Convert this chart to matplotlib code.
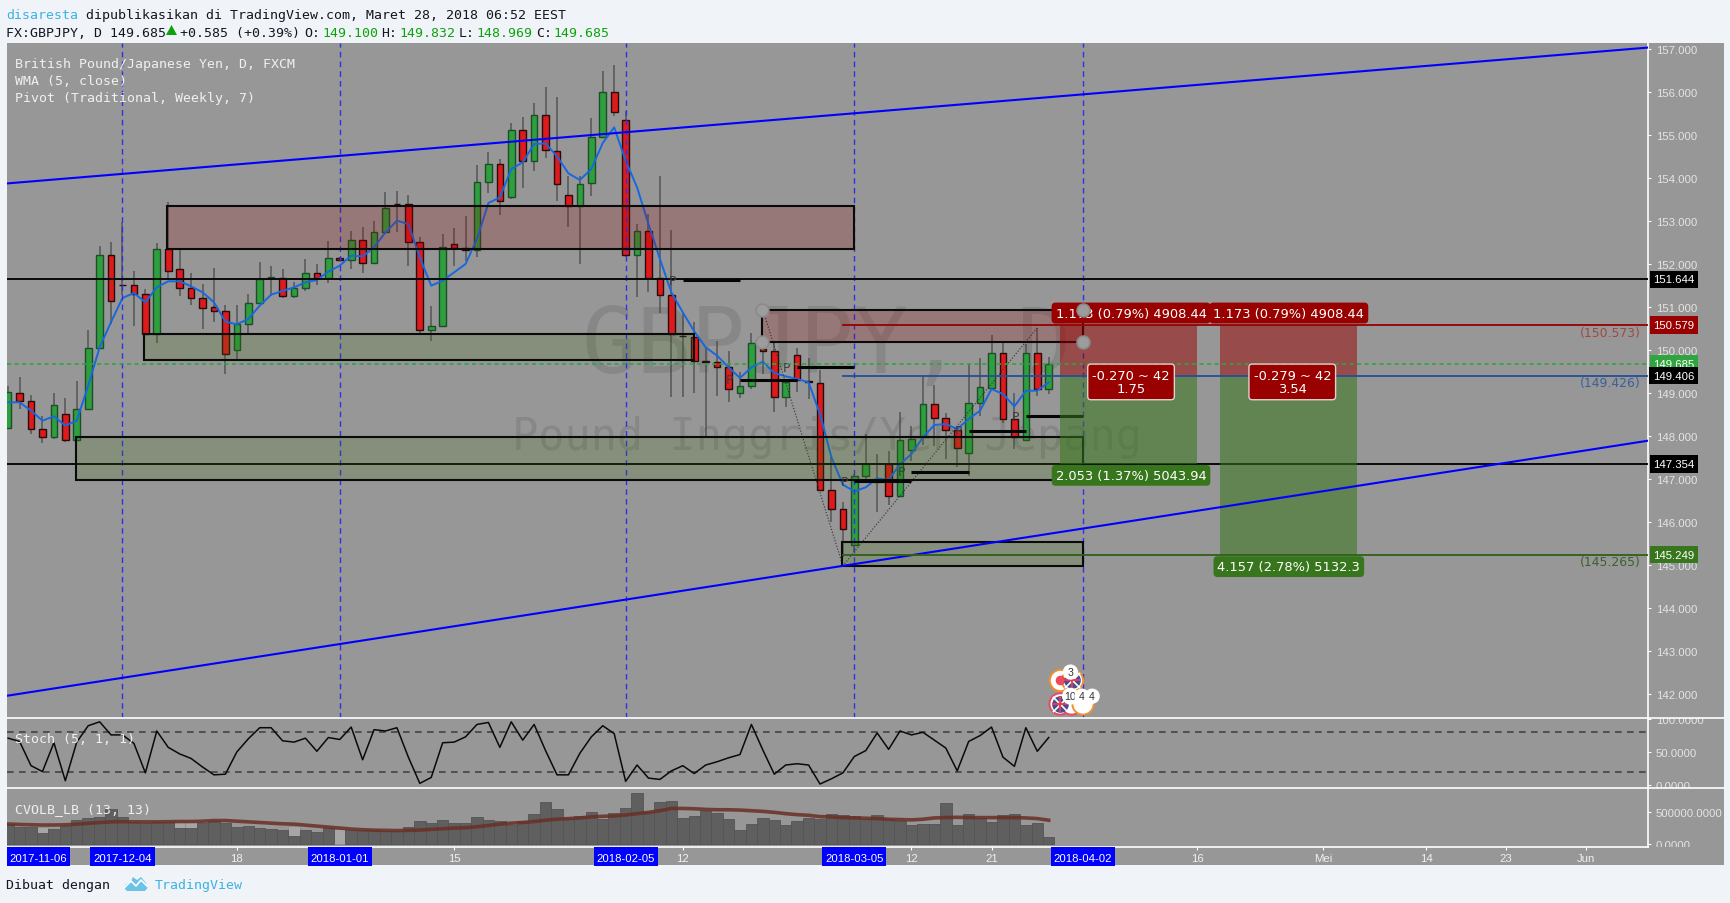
import numpy as np
import matplotlib
matplotlib.use('Agg')
import matplotlib.pyplot as plt
from matplotlib.patches import Rectangle, Polygon
from matplotlib.lines import Line2D
from matplotlib.transforms import Affine2D, Bbox

# daily candles
open_ = [148.197, 149.010, 148.817, 148.174, 147.980, 148.515, 147.919, 148.639, 150.056, 152.216,
         151.519, 151.519, 151.310, 150.365, 152.355, 151.891, 151.449, 151.217, 150.993, 150.915,
         150.009, 150.613, 151.101, 151.682, 151.666, 151.264, 151.449, 151.798, 151.674, 152.146,
         152.099, 152.564, 152.029, 152.749, 153.400, 153.400, 152.517, 150.473, 150.566, 152.471,
         152.378, 152.316, 153.911, 154.329, 153.562, 155.119, 154.383, 155.467, 154.631, 153.609,
         153.346, 153.872, 154.941, 156.001, 155.351, 152.215, 152.773, 151.673, 151.286, 150.334,
         150.311, 149.738, 149.730, 149.614, 149.002, 149.173, 150.025, 149.986, 148.917, 149.893,
         149.289, 149.235, 146.757, 146.307, 145.471, 147.066, 146.942, 147.345, 146.610, 147.678,
         147.972, 148.754, 148.429, 148.150, 147.608, 148.777, 149.126, 149.939, 148.398, 147.918,
         149.939, 149.100]
high = [149.170, 149.382, 148.964, 148.476, 148.995, 148.879, 149.289, 150.466, 152.425, 152.510,
        152.967, 151.829, 151.418, 152.487, 153.432, 152.348, 151.782, 151.535, 151.906, 151.047,
        151.047, 151.302, 152.038, 151.953, 151.883, 151.573, 152.108, 151.991, 152.526, 152.154,
        152.757, 152.850, 152.990, 153.663, 153.694, 153.601, 152.618, 151.015, 152.687, 152.827,
        153.106, 154.290, 154.592, 154.437, 155.266, 155.405, 155.738, 156.102, 155.870, 154.035,
        154.035, 155.382, 156.489, 156.621, 155.560, 152.920, 153.160, 154.050, 152.780, 150.876,
        150.644, 150.063, 150.203, 149.970, 149.483, 150.396, 150.179, 150.179, 149.328, 150.048,
        149.816, 149.537, 147.508, 146.462, 147.121, 148.042, 147.585, 147.663, 148.553, 148.228,
        149.389, 149.188, 148.537, 148.243, 149.676, 149.807, 150.349, 150.163, 149.002, 150.140,
        150.504, 149.832]
low = [148.170, 148.631, 148.043, 147.841, 147.934, 147.857, 147.895, 148.631, 150.040, 150.605,
       151.279, 150.567, 150.350, 150.164, 151.651, 151.248, 151.047, 150.489, 150.644, 149.436,
       149.792, 150.389, 151.093, 151.264, 151.202, 151.202, 151.372, 151.511, 151.558, 152.084,
       151.882, 151.790, 152.006, 152.734, 152.734, 151.960, 150.396, 150.210, 150.543, 151.960,
       152.068, 152.161, 153.648, 153.137, 153.508, 153.772, 154.159, 154.468, 153.462, 152.858,
       152.006, 153.586, 154.917, 155.444, 152.153, 151.224, 151.340, 150.860, 148.902, 148.902,
       148.995, 147.973, 148.940, 148.801, 148.894, 149.095, 149.444, 148.569, 148.685, 149.033,
       148.863, 146.734, 146.014, 145.185, 145.301, 146.927, 146.245, 146.400, 146.594, 147.430,
       147.794, 147.779, 147.469, 147.275, 147.082, 148.476, 149.110, 148.305, 147.701, 147.895,
       148.940, 148.969]
close = [149.018, 148.817, 148.174, 147.980, 148.732, 147.919, 148.639, 150.056, 152.216, 151.147,
         151.510, 151.302, 150.365, 152.355, 151.844, 151.449, 151.217, 150.985, 150.915, 149.909,
         150.613, 151.101, 151.651, 151.690, 151.264, 151.449, 151.798, 151.666, 152.146, 152.092,
         152.564, 152.029, 152.749, 153.307, 153.390, 152.517, 150.473, 150.566, 152.401, 152.378,
         152.316, 153.911, 154.329, 153.470, 155.119, 154.383, 155.467, 154.639, 153.849, 153.346,
         153.864, 154.941, 156.001, 155.521, 152.215, 152.773, 151.673, 151.278, 150.372, 150.330,
         149.754, 149.730, 149.614, 149.103, 149.173, 150.172, 149.986, 148.917, 149.266, 149.297,
         149.250, 146.749, 146.308, 145.843, 147.082, 147.353, 147.004, 146.610, 147.910, 147.934,
         148.754, 148.429, 148.150, 147.732, 148.777, 149.134, 149.939, 148.406, 147.972, 149.939,
         149.103, 149.685]
wma = [148.786, 148.786, 148.592, 148.360, 148.461, 148.244, 148.360, 149.173, 150.063, 150.652,
       151.209, 151.325, 151.109, 151.457, 151.597, 151.597, 151.480, 151.341, 151.109, 150.660,
       150.598, 150.722, 151.031, 151.287, 151.372, 151.457, 151.573, 151.627, 151.821, 151.960,
       152.192, 152.176, 152.386, 152.734, 153.005, 152.927, 152.153, 151.495, 151.611, 151.805,
       151.998, 152.579, 153.415, 153.547, 154.205, 154.360, 154.786, 154.801, 154.499, 154.104,
       153.950, 154.205, 154.809, 155.173, 154.399, 153.779, 152.927, 152.115, 151.340, 150.876,
       150.435, 150.063, 149.870, 149.599, 149.351, 149.599, 149.730, 149.467, 149.390, 149.328,
       149.250, 148.515, 147.508, 146.873, 146.718, 146.811, 147.020, 146.981, 147.353, 147.585,
       147.972, 148.259, 148.282, 148.166, 148.398, 148.592, 149.095, 148.979, 148.692, 149.056,
       149.056, 149.250]
stoch = [71, 66, 29, 20, 64, 6, 65, 90, 96, 76, 76, 63, 18, 82, 57, 47, 40, 27, 15, 16,
         50, 70, 87, 87, 67, 65, 71, 51, 72, 69, 88, 38, 84, 82, 87, 42, 2, 11, 64, 65,
         73, 92, 95, 57, 96, 68, 92, 52, 15, 15, 48, 73, 90, 78, 5, 30, 10, 8, 21, 29,
         17, 30, 35, 41, 46, 92, 53, 16, 30, 32, 30, 1, 9, 18, 43, 52, 79, 54, 82, 76,
         80, 68, 56, 21, 66, 75, 88, 42, 28, 87, 51, 72]
# volume and its average, in thousands
volume = [312, 260, 266, 172, 234, 286, 380, 401, 417, 547, 417, 339, 323, 339, 339, 245, 245, 328, 354, 328,
          260, 286, 255, 234, 219, 130, 224, 193, 245, 234, 219, 224, 214, 208, 208, 271, 365, 328, 380, 328,
          328, 417, 380, 365, 302, 365, 458, 651, 536, 401, 427, 490, 385, 474, 552, 786, 490, 646, 661, 411,
          432, 516, 479, 396, 219, 312, 411, 375, 297, 365, 411, 396, 464, 448, 427, 385, 448, 385, 354, 297,
          312, 312, 630, 297, 464, 411, 349, 448, 464, 302, 328, 115]
volume_ma = [312, 305, 300, 297, 297, 300, 310, 322, 335, 345, 347, 345, 345, 345, 347, 350, 350, 355, 365, 365,
             355, 345, 335, 325, 315, 310, 295, 280, 265, 250, 235, 225, 218, 215, 212, 215, 220, 230, 240, 250,
             255, 270, 290, 310, 325, 335, 350, 370, 385, 395, 405, 420, 430, 435, 450, 470, 490, 515, 550, 550,
             545, 535, 530, 530, 525, 515, 505, 490, 470, 455, 445, 425, 420, 410, 405, 400, 395, 385, 380, 375,
             385, 405, 410, 415, 410, 410, 410, 410, 410, 405, 395, 370]
# paler columns standing behind the dark ones
pale_bars = [3, 15, 16, 25, 29]
pale_volume = [260, 339, 339, 276, 234]

price_ticks = [157, 156, 155, 154, 153, 152, 151, 150, 149, 148, 147, 146, 145, 144, 143, 142]
stoch_ticks = [100, 50, 0]
vol_ticks = [500000, 0]
# bar number and text of the time axis
date_bars = [10, 29, 54, 74, 94]
date_labels = ['2017-12-04', '2018-01-01', '2018-02-05', '2018-03-05', '2018-04-02']
plain_bars = [20, 39, 59, 79, 86, 104, 115, 124, 131, 138]
plain_labels = ['18', '15', '12', '12', '21', '16', 'Mei', '14', '23', 'Jun']

# zones: bar from, bar to, price top, price bottom
red_zones = [(13.85, 74, 153.339, 152.355), (65.9, 94, 150.937, 150.180)]
green_zones = [(11.9, 60, 150.365, 149.777), (5.9, 94, 147.973, 146.982), (72.9, 94, 145.541, 144.990)]
# weekly pivots: bar from, bar to, price
pivots = [(59, 64, 151.620), (64, 69, 149.313), (69, 74, 149.599), (74, 79, 146.950),
          (79, 84, 147.175), (84, 89, 148.127), (89, 94, 148.460)]
stop_price = 150.579
entry_price = 149.406
target_1 = 147.354
target_2 = 145.249
resistance = 151.644
last_price = 149.685

W, H = 1731, 904
fig = plt.figure(figsize=(W / 100, H / 100), dpi=100, facecolor='#f0f3f7')
px = Affine2D().scale(1, -1).translate(0, H)
GRAY = '#979797'
MONO = 'DejaVu Sans Mono'
SANS = 'Liberation Sans'


def make_ax(top, bottom):
    a = fig.add_axes([7 / W, 1 - bottom / H, (1648 - 7) / W, (bottom - top) / H], facecolor=GRAY)
    a.set_xlim(-0.1, 143.41)
    for s in ['top', 'left', 'bottom']:
        a.spines[s].set_visible(False)
    a.spines['right'].set_color('white')
    a.spines['right'].set_linewidth(1.2)
    a.yaxis.tick_right()
    a.tick_params(axis='y', length=2.5, color='white', labelcolor='#e4e4e4', labelsize=8.2, pad=3.2, width=0.8)
    a.set_xticks([])
    return a


def clip_labels(a, top, bottom):
    fig.canvas.draw()
    for lab in a.get_yticklabels():
        lab.set_fontfamily(SANS)
        lab.set_clip_box(Bbox.from_extents(1648, H - bottom, W, H - top))
        lab.set_clip_on(True)


fig.add_artist(Rectangle((7, 44), 1724 - 7, 866 - 44, transform=px, facecolor=GRAY, edgecolor='none', zorder=-1))

ax = make_ax(44, 718.5)
ax.set_ylim(141.465, 157.132)
ax.set_yticks(price_ticks)
ax.set_yticklabels(['%.3f' % p for p in price_ticks])
clip_labels(ax, 44, 718.5)

# watermark
ax.text(827, 348, 'GBPJPY, D', transform=px, family=MONO, fontsize=65, color='black', alpha=0.1,
        ha='center', va='center', zorder=1)
ax.text(827, 438, 'Pound Inggris/Yen Jepang', transform=px, family=MONO, fontsize=31.4, color='black',
        alpha=0.1, ha='center', va='center', zorder=1)

bars = np.arange(len(close))
o = np.array(open_)
c = np.array(close)
up = c >= o
ax.vlines(bars, low, high, color='#444444', lw=1.1, alpha=0.8, zorder=2)
ax.bar(bars[up], (c - o)[up], bottom=o[up], width=0.58, color='#2f9e3f', edgecolor='#1d4f26', lw=1, zorder=3)
ax.bar(bars[~up], (c - o)[~up], bottom=o[~up], width=0.58, color='#de1a1c', edgecolor='#2a0b0b', lw=1, zorder=3)
ax.plot(bars, wma, color='#1668e0', lw=1.4, zorder=4)

# trend lines and period separators
ax.plot([-0.1, 143.41], [153.87, 157.026], color='#0000ff', lw=1.5, zorder=6)
ax.plot([-0.1, 143.41], [141.97, 147.894], color='#0000ff', lw=1.5, zorder=6)
for b in date_bars:
    ax.axvline(b, color='#3030e8', lw=1, dashes=(4, 3), zorder=5)

ax.axhline(resistance, color='#0a0a0a', lw=1.4, zorder=5)
ax.axhline(target_1, color='#0a0a0a', lw=1.4, zorder=5)

# dotted swing lines
ax.plot([66, 73, 90], [150.937, 144.99, 150.52], color='#303030', lw=0.8, ls=':', zorder=5)

# supply and demand zones
for b0, b1, top, bot in red_zones:
    ax.add_patch(Rectangle((b0, bot), b1 - b0, top - bot, facecolor=(0.61, 0, 0, 0.2), edgecolor='#0a0a0a', lw=1.5, zorder=5))
for b0, b1, top, bot in green_zones:
    ax.add_patch(Rectangle((b0, bot), b1 - b0, top - bot, facecolor=(0.24, 0.44, 0.06, 0.2), edgecolor='#0a0a0a', lw=1.5, zorder=5))
ax.scatter([65.9, 65.9, 94, 94], [150.937, 150.18, 150.937, 150.18], s=85, facecolor='#9c9c9c', edgecolor='#8a8a8a', lw=1.2, zorder=9)

# weekly pivots
for b0, b1, p in pivots:
    ax.plot([b0, b1], [p, p], color='#050505', lw=2.2, solid_capstyle='butt', zorder=5)
    ax.text(b0 - 0.9, p, 'P', family=MONO, fontsize=9, color='#3c3c3c', ha='center', va='center', zorder=5)

# long position tools
for b0, b1, target in [(92, 104, target_1), (106, 118, target_2)]:
    ax.add_patch(Rectangle((b0, entry_price), b1 - b0, stop_price - entry_price, facecolor=(0.6, 0, 0, 0.5), edgecolor='none', zorder=5))
    ax.add_patch(Rectangle((b0, target), b1 - b0, entry_price - target, facecolor=(0.22, 0.46, 0.11, 0.55), edgecolor='none', zorder=5))
ax.plot([73, 143.41], [stop_price, stop_price], color='#990000', lw=1.3, zorder=6)
ax.plot([73, 143.41], [entry_price, entry_price], color='#234f96', lw=1.3, zorder=6)
ax.plot([73, 143.41], [target_2, target_2], color='#2f5f17', lw=1.3, zorder=6)
ax.axhline(last_price, color='#2fa53f', lw=1.2, dashes=(2.5, 2), zorder=6)

box = dict(boxstyle='round,pad=0.3,rounding_size=0.3', edgecolor='none')
for k, txt in [(98.2, '1.173 (0.79%) 4908.44'), (112, '1.173 (0.79%) 4908.44')]:
    ax.text(k, 150.86, txt, fontsize=9.4, color='white', ha='center', va='center', zorder=8,
            bbox=dict(box, facecolor='#990000'))
for k, txt in [(98.2, '-0.270 ~ 42\n1.75'), (112.3, '-0.279 ~ 42\n3.54')]:
    ax.text(k, 149.26, txt, fontsize=9.4, color='white', ha='center', va='center', zorder=8, linespacing=1.05,
            bbox=dict(boxstyle='round,pad=0.35,rounding_size=0.25', facecolor='#990000', edgecolor='#e0d0d0', lw=1))
ax.text(98.2, 147.09, '2.053 (1.37%) 5043.94', fontsize=9.4, color='white', ha='center', va='center', zorder=8,
        bbox=dict(box, facecolor='#38761d'))
ax.text(112, 144.97, '4.157 (2.78%) 5132.3', fontsize=9.4, color='white', ha='center', va='center', zorder=8,
        bbox=dict(box, facecolor='#38761d'))
for p, txt, col in [(150.40, '(150.573)', '#a04848'), (149.24, '(149.426)', '#3a5f9c'), (145.08, '(145.265)', '#3d5f2d')]:
    ax.text(142.8, p, txt, fontsize=8.9, color=col, ha='right', va='center', zorder=6)

# price tags on the scale
for p, col in [(last_price, '#2fa53f'), (resistance, 'black'), (stop_price, '#990000'),
               (entry_price, 'black'), (target_1, 'black'), (target_2, '#38761d')]:
    ax.text(1.0158, p, '%.3f' % p, transform=ax.get_yaxis_transform(), family=SANS, fontsize=8.2, color='white',
            ha='center', va='center', zorder=10, bbox=dict(boxstyle='square,pad=0.33', facecolor=col, edgecolor='none'))

# economic events
ax.scatter([92, 93], [142.34, 142.34], s=235, facecolor='white', edgecolor='#f09030', lw=1.4, zorder=9)
ax.scatter([92, 93, 94], [141.78, 141.78, 141.78], s=235, facecolor='white', edgecolor=['#ea4a60', '#ea4a60', '#f09030'], lw=1.4, zorder=9)
ax.scatter([92], [142.34], s=35, color='#ee4a5a', zorder=10)
ax.scatter([93, 92], [142.34, 141.78], s=120, color='#3f4f98', zorder=10)
ax.scatter([93, 92], [142.34, 141.78], s=120, marker='x', color='white', lw=1.2, zorder=10)
ax.scatter([93, 92], [142.34, 141.78], s=120, marker='+', color='#ee3a4a', lw=1.4, zorder=10)
for k, p, t in [(92.9, 142.52, '3'), (92.9, 141.96, '10'), (93.9, 141.96, '4'), (94.8, 141.96, '4')]:
    ax.text(k, p, t, family=SANS, fontsize=7.6, color='#333333', ha='center', va='center', zorder=11,
            bbox=dict(boxstyle='circle,pad=0.25', facecolor='white', edgecolor='none'))

# stochastic pane
ax2 = make_ax(718.5, 789)
ax2.set_ylim(-5.1, 102.6)
ax2.set_yticks(stoch_ticks)
ax2.set_yticklabels(['100.0000', '50.0000', '0.0000'])
clip_labels(ax2, 718.5, 789)
ax2.axhline(80, color='#444444', lw=1.2, dashes=(4, 3.2))
ax2.axhline(20, color='#444444', lw=1.2, dashes=(4, 3.2))
ax2.plot(bars, stoch, color='#0a0a0a', lw=1.1)

# volume pane
ax3 = make_ax(789, 848)
ax3.set_ylim(-39000, 861800)
ax3.set_yticks(vol_ticks)
ax3.set_yticklabels(['500000.0000', '0.0000'])
clip_labels(ax3, 789, 848)
vol = np.array(volume) * 1000
dark = bars != 29
ax3.bar(pale_bars, np.array(pale_volume) * 1000, width=1.0, color='#a6a6a6', edgecolor='#8c8c8c', lw=0.6)
ax3.bar(bars[dark], vol[dark], width=1.0, color='#5f5f5f', edgecolor='#545454', lw=0.6)
ax3.plot(bars, np.array(volume_ma) * 1000, color='#6b2f26', lw=2.6, alpha=0.85)
ax3.spines['bottom'].set_visible(True)
ax3.spines['bottom'].set_color('white')
ax3.spines['bottom'].set_linewidth(1.2)
ax3.set_xticks(date_bars + plain_bars)
ax3.set_xticklabels([])
ax3.tick_params(axis='x', length=2.5, color='white', width=0.8)

# time axis strip
axt = fig.add_axes([7 / W, 1 - 867 / H, (1648 - 7) / W, 19 / H])
axt.set_xlim(-0.1, 143.41)
axt.set_ylim(0, 1)
axt.axis('off')
for k, t in zip([2.65] + date_bars, ['2017-11-06'] + date_labels):
    axt.add_patch(Rectangle((k - 2.8, 0), 5.6, 1, facecolor='#0000ff', edgecolor='none'))
    axt.text(k, 0.42, t, family=SANS, fontsize=8.2, color='white', ha='center', va='center')
for k, t in zip(plain_bars, plain_labels):
    axt.text(k, 0.42, t, family=SANS, fontsize=8.2, color='#f0f0f0', ha='center', va='center')

# pane separators run on to the right edge
for y in [718.5, 789]:
    fig.add_artist(Line2D([7, 1724], [y, y], transform=px, color='white', lw=1.2, zorder=5))

# pane titles
for y, t in [(64.5, 'British Pound/Japanese Yen, D, FXCM'), (81.5, 'WMA (5, close)'),
             (98.5, 'Pivot (Traditional, Weekly, 7)'), (740, 'Stoch (5, 1, 1)'), (810, 'CVOLB_LB (13, 13)')]:
    fig.text(15, y, t, transform=px, family=MONO, fontsize=9.5, color='#f0f0f0', va='center', zorder=12)

# header and footer
BLUE = '#3bb3e4'
GREEN = '#0ca30c'
DARK = '#131722'


def head(x, y, t, col=DARK):
    fig.text(x, y, t, transform=px, family=MONO, fontsize=9.5, color=col, va='center')


head(6, 16, 'disaresta', BLUE)
head(86, 16, 'dipublikasikan di TradingView.com, Maret 28, 2018 06:52 EEST')
head(6, 34, 'FX:GBPJPY, D 149.685')
fig.add_artist(Polygon([[166, 36], [177, 36], [171.5, 26]], transform=px, facecolor=GREEN, edgecolor='none'))
head(180.5, 34, '+0.585 (+0.39%)')
for x, lab, x2, val in [(304, 'O:', 322, '149.100'), (381.5, 'H:', 399, '149.832'),
                        (458.5, 'L:', 476.5, '148.969'), (536, 'C:', 553.5, '149.685')]:
    head(x, 34, lab)
    head(x2, 34, val, GREEN)
head(6, 886, 'Dibuat dengan')
head(154.5, 886, 'TradingView', BLUE)
fig.add_artist(Polygon([[124, 889], [126, 885], [130, 884], [133, 878], [137, 881], [141, 878], [146, 884],
                        [147.5, 889], [145, 892], [127, 892]], transform=px, facecolor='#6cc3e8', edgecolor='none'))
fig.add_artist(Line2D([124, 131, 136, 141, 147], [889, 882, 887, 881, 887], transform=px, color='white', lw=1.2))

fig.savefig('out.png', dpi=100, facecolor=fig.get_facecolor())
